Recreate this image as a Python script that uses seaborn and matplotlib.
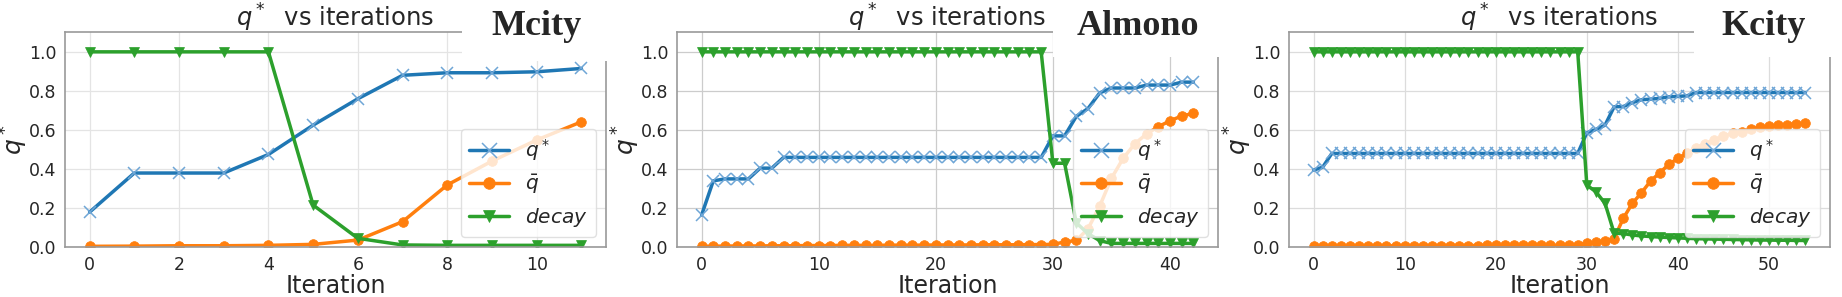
import matplotlib
matplotlib.use('Agg')
import matplotlib.pyplot as plt
from matplotlib.patches import Rectangle
import pandas as pd
import seaborn as sns

# Mcity
m_iter = [0, 1, 2, 3, 4, 5, 6, 7, 8, 9, 10, 11]
m_qstar = [0.18, 0.38, 0.38, 0.38, 0.475, 0.625, 0.76, 0.88, 0.893, 0.893, 0.898, 0.915]
m_qbar = [0.005, 0.006, 0.008, 0.008, 0.01, 0.015, 0.037, 0.131, 0.319, 0.441, 0.549, 0.642]
m_decay = [1.0, 1.0, 1.0, 1.0, 1.0, 0.216, 0.046, 0.012, 0.01, 0.01, 0.01, 0.01]

# Almono
a_iter = list(range(43))
a_qstar = [0.165, 0.34, 0.35, 0.35, 0.35, 0.405, 0.405, 0.46, 0.46, 0.46,
           0.46, 0.46, 0.46, 0.46, 0.46, 0.46, 0.46, 0.46, 0.46, 0.46,
           0.46, 0.46, 0.46, 0.46, 0.46, 0.46, 0.46, 0.46, 0.46, 0.46,
           0.57, 0.57, 0.67, 0.71, 0.79, 0.815, 0.815, 0.815, 0.83, 0.83,
           0.83, 0.845, 0.845]
a_qbar = [0.005, 0.006, 0.006, 0.007, 0.007, 0.007, 0.008, 0.008, 0.008, 0.009,
          0.009, 0.009, 0.010, 0.010, 0.010, 0.010, 0.011, 0.011, 0.011, 0.011,
          0.012, 0.012, 0.012, 0.012, 0.013, 0.013, 0.013, 0.013, 0.014, 0.014,
          0.015, 0.027, 0.035, 0.095, 0.211, 0.353, 0.455, 0.53, 0.58, 0.617,
          0.647, 0.672, 0.685]
a_decay = [1.0, 1.0, 1.0, 1.0, 1.0, 1.0, 1.0, 1.0, 1.0, 1.0,
           1.0, 1.0, 1.0, 1.0, 1.0, 1.0, 1.0, 1.0, 1.0, 1.0,
           1.0, 1.0, 1.0, 1.0, 1.0, 1.0, 1.0, 1.0, 1.0, 1.0,
           0.43, 0.43, 0.125, 0.07, 0.034, 0.02, 0.02, 0.02, 0.02, 0.02,
           0.02, 0.02, 0.02]

# Kcity
k_iter = list(range(55))
k_qstar = [0.395, 0.41, 0.48, 0.48, 0.48, 0.48, 0.48, 0.48, 0.48, 0.48,
           0.48, 0.48, 0.48, 0.48, 0.48, 0.48, 0.48, 0.48, 0.48, 0.48,
           0.48, 0.48, 0.48, 0.48, 0.48, 0.48, 0.48, 0.48, 0.48, 0.48,
           0.586, 0.603, 0.625, 0.719, 0.72, 0.74, 0.755, 0.758, 0.762, 0.77,
           0.772, 0.775, 0.792, 0.792, 0.792, 0.792, 0.792, 0.792, 0.792, 0.792,
           0.792, 0.792, 0.792, 0.792, 0.792]
k_qbar = [0.005, 0.005, 0.006, 0.006, 0.006, 0.007, 0.007, 0.007, 0.007, 0.008,
          0.008, 0.008, 0.008, 0.008, 0.009, 0.009, 0.009, 0.009, 0.009, 0.010,
          0.010, 0.010, 0.010, 0.010, 0.011, 0.011, 0.011, 0.011, 0.012, 0.012,
          0.02, 0.025, 0.034, 0.045, 0.148, 0.225, 0.279, 0.339, 0.381, 0.424,
          0.455, 0.48, 0.51, 0.53, 0.548, 0.569, 0.583, 0.591, 0.603, 0.613,
          0.62, 0.625, 0.628, 0.632, 0.634]
k_decay = [1.0, 1.0, 1.0, 1.0, 1.0, 1.0, 1.0, 1.0, 1.0, 1.0,
           1.0, 1.0, 1.0, 1.0, 1.0, 1.0, 1.0, 1.0, 1.0, 1.0,
           1.0, 1.0, 1.0, 1.0, 1.0, 1.0, 1.0, 1.0, 1.0, 1.0,
           0.318, 0.284, 0.225, 0.072, 0.07, 0.063, 0.058, 0.055, 0.052, 0.05,
           0.048, 0.046, 0.044, 0.043, 0.042, 0.041, 0.04, 0.039, 0.038, 0.037,
           0.037, 0.036, 0.036, 0.035, 0.035]

names = ['Mcity', 'Almono', 'Kcity']
series_labels = ['$q^*$', r'$\bar{q}$', '$decay$']

sns.set_style('whitegrid')
plt.rcParams['font.family'] = ['DejaVu Sans']
plt.rcParams['mathtext.fontset'] = 'dejavusans'

W, H = 1842, 297
fig = plt.figure(figsize=(W / 100, H / 100), dpi=100)

panels = [
    (m_iter, m_qstar, m_qbar, m_decay),
    (a_iter, a_qstar, a_qbar, a_decay),
    (k_iter, k_qstar, k_qbar, k_decay),
]
lefts = [65, 677, 1289]
grid_colors = ['#e4e4e4', '#cccccc', '#dcdcdc']
colors = ['#1f77b4', '#ff7f0e', '#2ca02c']
edge_colors = ['#6fa6d6', '#ff7f0e', '#2ca02c']
markers = ['x', 'o', 'v']
msizes = [9, 7, 7]

# white patch + bold name over the top right corner of each panel (px)
boxes = [(462, 613, 61), (1053, 1224, 57), (1694, 1842, 57)]
name_x = [536, 1138, 1764]

for i, (it, qs, qb, dc) in enumerate(panels):
    ax = fig.add_axes([lefts[i] / W, (H - 247.3) / H, 541 / W, 215 / H])
    df = pd.DataFrame({'Iteration': it, 'qstar': qs, 'qbar': qb, 'decay': dc})
    for col, c, ec, mk, ms, lab in zip(['qstar', 'qbar', 'decay'], colors, edge_colors,
                                       markers, msizes, series_labels):
        sns.lineplot(data=df, x='Iteration', y=col, ax=ax, color=c, marker=mk,
                     markersize=ms, linewidth=2.5, markeredgecolor=ec,
                     markeredgewidth=1.1 if mk == 'x' else 0.5, label=lab)
    ax.set_ylim(0, 1.1)
    ax.set_yticks([0.0, 0.2, 0.4, 0.6, 0.8, 1.0])
    ax.set_ylabel('$q^*$', fontsize=18)
    ax.yaxis.set_label_coords(-35 / 541, 0.5)
    ax.set_xlabel('Iteration', fontsize=17, labelpad=0)
    ax.set_title('$q^*$  vs iterations', fontsize=17.5, pad=4)
    ax.tick_params(labelsize=12.5, pad=2.5)
    ax.grid(True, color=grid_colors[i], linewidth=0.9)
    for s in ax.spines.values():
        s.set_edgecolor('0.6')
        s.set_linewidth(1.2)
    leg = ax.legend(loc='lower right', fontsize=14.5, markerscale=1.2,
                    handlelength=2.0, borderaxespad=0.5)
    leg.get_frame().set_edgecolor('0.85')

    x0, x1, ybot = boxes[i]
    fig.patches.append(Rectangle((x0 / W, 1 - ybot / H), (x1 - x0) / W, ybot / H,
                                 transform=fig.transFigure, facecolor='white',
                                 edgecolor='none', zorder=10))
    fig.text(name_x[i] / W, 1 - 35 / H, names[i], ha='center', va='baseline',
             fontsize=26, fontweight='bold', family='Liberation Serif', zorder=11)

fig.savefig('out.png', dpi=100)
